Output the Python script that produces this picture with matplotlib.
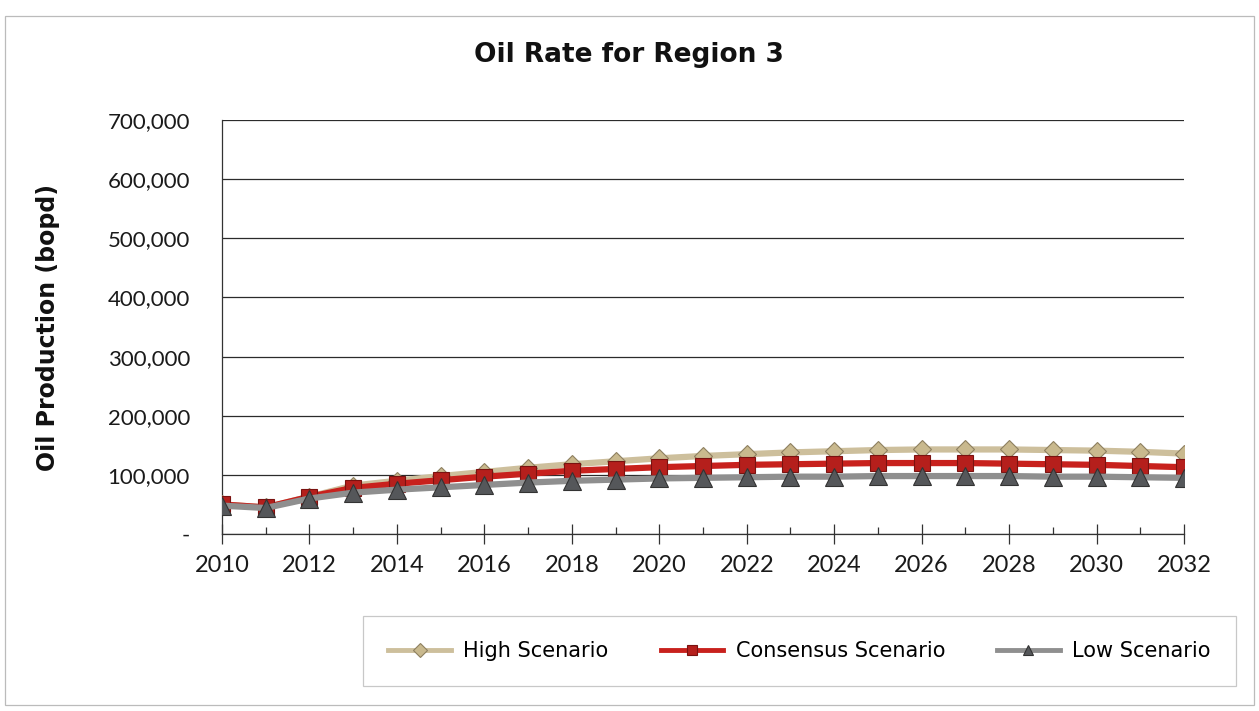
import matplotlib
matplotlib.use("Agg")
import matplotlib.pyplot as plt
from matplotlib.patches import Rectangle
from matplotlib.ticker import FuncFormatter, MultipleLocator

years = list(range(2010, 2033))
high = [50000, 45000, 63000, 82000, 90000, 98000, 105000, 112000, 118000, 123000, 128000, 132000,
        135000, 138000, 140000, 142000, 143000, 143000, 143000, 142000, 141000, 139000, 136000]
consensus = [50000, 45000, 63000, 78000, 85000, 91000, 97000, 102000, 107000, 110000, 113000, 115000,
             117000, 118000, 119000, 120000, 120000, 120000, 119000, 118000, 117000, 115000, 113000]
low = [48000, 44000, 60000, 70000, 75000, 79000, 83000, 87000, 90000, 92000, 94000, 95000,
       96000, 97000, 97000, 98000, 98000, 98000, 98000, 97000, 97000, 96000, 95000]

series_names = ["High Scenario", "Consensus Scenario", "Low Scenario"]
title = "Oil Rate for Region 3"
ylabel = "Oil Production (bopd)"


def _fmt(v, pos):
    if v == 0:
        return "-"
    return f"{int(v):,}"


fig = plt.figure(figsize=(12.59, 7.11), dpi=100)
ax = fig.add_axes([0.1763, 0.2489, 0.7641, 0.5823])

ax.plot(years, high, color="#CDBF9C", lw=4.5, marker="D", ms=9,
        mfc="#C9B98E", mec="#8E8060", mew=0.8, label=series_names[0], zorder=3)
ax.plot(years, consensus, color="#C8211D", lw=4.5, marker="s", ms=11,
        mfc="#B51F1C", mec="#7A1210", mew=0.8, label=series_names[1], zorder=4)
ax.plot(years, low, color="#8F8F8F", lw=4.5, marker="^", ms=13,
        mfc="#55575A", mec="#333333", mew=0.8, label=series_names[2], zorder=5)

ax.set_xlim(2010, 2032)
ax.set_ylim(0, 700000)
ax.yaxis.set_major_locator(MultipleLocator(100000))
ax.yaxis.set_major_formatter(FuncFormatter(_fmt))
ax.xaxis.set_major_locator(MultipleLocator(2))
ax.xaxis.set_minor_locator(MultipleLocator(1))
ax.grid(axis="y", color="#2B2B2B", lw=0.9)
ax.set_axisbelow(True)

for s in ["top", "right"]:
    ax.spines[s].set_visible(False)
ax.spines["left"].set_color("#333333")
ax.spines["bottom"].set_color("#333333")
ax.spines["left"].set_linewidth(0.9)
ax.spines["bottom"].set_linewidth(0.9)

ax.tick_params(axis="y", length=0, pad=23, labelsize=16, labelcolor="#1A1A1A")
ax.tick_params(axis="x", which="major", direction="inout", length=14, width=0.9,
               color="#333333", pad=8, labelsize=17, labelcolor="#1A1A1A")
ax.tick_params(axis="x", which="minor", direction="in", length=5, width=0.9, color="#333333")
for lab in ax.get_xticklabels() + ax.get_yticklabels():
    lab.set_fontfamily("Lato")

fig.text(0.4995, 0.922, title, ha="center", va="center", fontsize=19, fontweight="bold",
         color="#111111")
fig.text(0.038, 0.54, ylabel, ha="center", va="center", rotation=90, fontsize=17,
         fontweight="bold", color="#111111")

leg = fig.legend(loc="center", bbox_to_anchor=(0.635, 0.0844), ncol=3, frameon=True,
                 fontsize=15, handlelength=3.0, columnspacing=2.5, borderpad=1.2,
                 handletextpad=0.6)
leg.get_frame().set_edgecolor("#BBBBBB")
leg.get_frame().set_boxstyle("square", pad=0)
leg.get_frame().set_linewidth(0.9)
for h in leg.legend_handles:
    h.set_markersize(7)
    h.set_linewidth(3.5)

fig.patches.append(Rectangle((0.004, 0.008), 0.992, 0.97, transform=fig.transFigure,
                             fill=False, edgecolor="#BBBBBB", lw=0.9))

fig.savefig("out.png", dpi=100)
